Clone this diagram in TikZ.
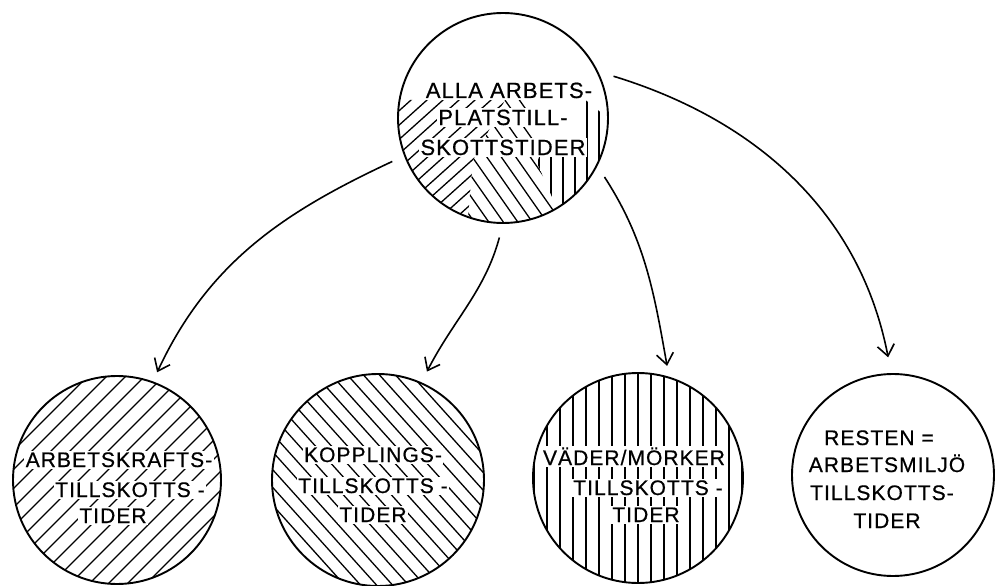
\documentclass[tikz,border=0pt]{standalone}
\usepackage{fontspec}
\setmainfont{Liberation Sans}[LetterSpace=5,FakeBold=0.6]
\usetikzlibrary{arrows.meta}
\tikzset{
  bubble/.style={circle, draw, line width=1.9pt, inner sep=0pt, minimum size=#1},
  hatch/.style={line width=1.3pt},
  lettering/.style={fill=white, inner sep=1.5pt, anchor=base, font=\fontsize{21}{21}\selectfont},
  bigletters/.style={lettering, font=\fontsize{22}{22}\selectfont},
  link/.style={line width=1.6pt, -{Straight Barb[length=11pt,width=17pt,line width=1.6pt]}}
}
\begin{document}
\begin{tikzpicture}[x=1pt,y=-1pt]
\useasboundingbox[fill=white] (0,0) rectangle (997,586);

% ---- hatching of the top circle: three sectors ----
\begin{scope}[shift={(503,118)}]
  \clip (0,0) circle[radius=105];
  \begin{scope}
    \clip (-113,-18) -- (2,-18) -- (-30,42) -- (-37,122) -- (-113,122) -- cycle;
    \foreach \k in {-16,...,16} \draw[hatch] (\k*16-167,150) -- (\k*16+167,-150);
  \end{scope}
  \begin{scope}
    \clip (2,-18) -- (27,-18) -- (34,45) -- (68,122) -- (-37,122) -- (-30,42) -- cycle;
    \foreach \k in {-16,...,16} \draw[hatch] (\k*14.5-105,-150) -- (\k*14.5+105,150);
  \end{scope}
  \begin{scope}
    \clip (80,-20) -- (122,14) -- (122,122) -- (68,122) -- (34,45) -- (42,22) -- (80,22) -- cycle;
    \foreach \k in {-9,...,9} \draw[hatch] (\k*12,-120) -- (\k*12,120);
  \end{scope}
\end{scope}

% ---- hatching of the lower circles ----
\begin{scope}[shift={(117,480)}]
  \clip (0,0) circle[radius=104];
  \foreach \k in {-9,...,9} \draw[hatch] (\k*19-150,150) -- (\k*19+150,-150);
\end{scope}
\begin{scope}[shift={(378,480)}]
  \clip (0,0) circle[radius=106];
  \foreach \k in {-10,...,10} \draw[hatch] (\k*16-135,-150) -- (\k*16+135,150);
\end{scope}
\begin{scope}[shift={(638,478)}]
  \clip (0,0) circle[radius=105];
  \foreach \k in {-8,...,8} \draw[hatch] (\k*13,-110) -- (\k*13,110);
\end{scope}

% ---- texts ----
\node[bigletters] (ta) at (509,98) {ALLA ARBETS-};
\node[bigletters] (tb) at (503,125) {PLATSTILL-};
\node[bigletters] (tc) at (503,155) {SKOTTSTIDER};

\node[lettering] (aa) at (119,467) {ARBETSKRAFTS-};
\node[lettering] (ab) at (130,497) {TILLSKOTTS -};
\node[lettering] (ac) at (113,523) {TIDER};

\node[lettering] (ka) at (373,462) {KOPPLINGS-};
\node[lettering] (kb) at (373,493) {TILLSKOTTS -};
\node[lettering] (kc) at (373,522) {TIDER};

\node[lettering] (va) at (634,465) {VÄDER/MÖRKER};
\node[lettering] (vb) at (648,495) {TILLSKOTTS -};
\node[lettering] (vc) at (646,522) {TIDER};

\node[lettering] (ra) at (879,445) {RESTEN =};
\node[lettering] (rb) at (887,472) {ARBETSMILJÖ};
\node[lettering] (rc) at (882,500) {TILLSKOTTS-};
\node[lettering] (rd) at (887,528) {TIDER};

% ---- circles ----
\node[bubble=210pt] (top) at (503,118) {};
\node[bubble=208pt] (c1) at (117,480) {};
\node[bubble=212pt] (c2) at (378,480) {};
\node[bubble=210pt] (c3) at (638,478) {};
\node[bubble=202pt] (c4) at (893,475) {};

% ---- connectors ----
\draw[link, shorten <=13pt, shorten >=10pt] (top.201) to[out=205,in=65] (c1.70);
\draw[link, shorten <=14pt, shorten >=12pt] (top.270) to[out=255,in=63] (c2.66);
\draw[link, shorten <=13pt, shorten >=11pt] (top.-27) to[out=-57,in=100] (c3.73);
\draw[link, shorten <=16pt, shorten >=16pt] (top.26) to[out=-17,in=101] (c4.91);
\end{tikzpicture}
\end{document}
